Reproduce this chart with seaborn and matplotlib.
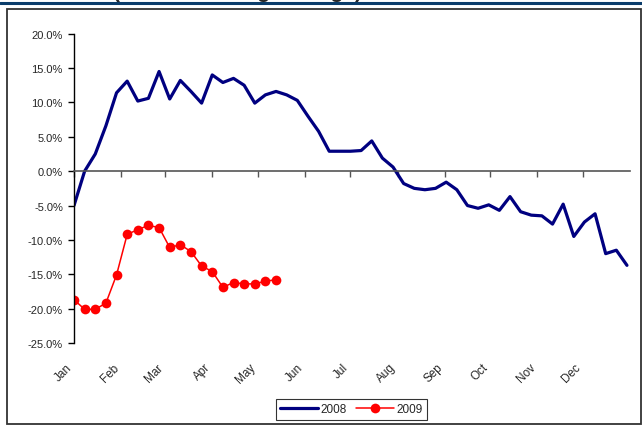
import numpy as np
import pandas as pd
import matplotlib
matplotlib.use("Agg")
import matplotlib.pyplot as plt
import seaborn as sns
from matplotlib.lines import Line2D
from matplotlib.patches import Rectangle
from matplotlib.ticker import FuncFormatter
from matplotlib.transforms import ScaledTranslation

# ---- data (weekly values, % change) ----
values_2008 = [-5.0, 0.0, 2.5, 6.6, 11.4, 13.1, 10.2, 10.6, 14.5, 10.5,
               13.2, 11.6, 9.9, 14.0, 12.9, 13.5, 12.5, 9.9, 11.1, 11.6,
               11.1, 10.3, 8.0, 5.8, 2.9, 2.9, 2.9, 3.0, 4.4, 1.9,
               0.6, -1.8, -2.5, -2.7, -2.5, -1.6, -2.7, -5.0, -5.4, -4.9,
               -5.7, -3.7, -5.9, -6.4, -6.5, -7.7, -4.8, -9.5, -7.4, -6.2,
               -12.0, -11.5, -13.7]
values_2009 = [-18.7, -20.1, -20.1, -19.2, -15.1, -9.2, -8.5, -7.9, -8.2, -11.1,
               -10.7, -11.7, -13.8, -14.6, -16.9, -16.2, -16.4, -16.4, -16.0, -15.8]
month_labels = ["Jan", "Feb", "Mar", "Apr", "May", "Jun",
                "Jul", "Aug", "Sep", "Oct", "Nov", "Dec"]
month_days = [0, 31, 60, 91, 121, 152, 182, 213, 244, 274, 305, 335]
y_ticks = [20, 15, 10, 5, 0, -5, -10, -15, -20, -25]

df08 = pd.DataFrame({"day": np.arange(len(values_2008)) * 7, "value": values_2008, "year": "2008"})
df09 = pd.DataFrame({"day": np.arange(len(values_2009)) * 7, "value": values_2009, "year": "2009"})

sns.set_style("white")
plt.rcParams["font.family"] = ["Liberation Sans", "DejaVu Sans"]

fig = plt.figure(figsize=(6.42, 4.27), dpi=100)
W, H = 642, 427
ax = fig.add_axes([74 / W, 1 - 344 / H, 556 / W, (344 - 34.7) / H])

sns.lineplot(data=df08, x="day", y="value", ax=ax, color="#000080", linewidth=2.3,
             legend=False)
sns.lineplot(data=df09, x="day", y="value", ax=ax, color="#FF0000", linewidth=1.1,
             marker="o", markersize=7, markeredgewidth=0, legend=False)

ax.set_xlim(0, 366)
ax.set_ylim(-25, 20)
ax.set_xlabel("")
ax.set_ylabel("")

# spines
for s in ["top", "right"]:
    ax.spines[s].set_visible(False)
ax.spines["left"].set_color("black")
ax.spines["left"].set_linewidth(1.0)
ax.spines["bottom"].set_position(("data", 0))
ax.spines["bottom"].set_color("#555555")
ax.spines["bottom"].set_linewidth(1.2)

ax.set_yticks(y_ticks)
ax.yaxis.set_major_formatter(FuncFormatter(lambda v, p: f"{v:.1f}%"))
ax.tick_params(axis="y", direction="out", length=4, width=1, color="black",
               labelsize=8, pad=4, left=True)

ax.set_xticks(month_days)
ax.tick_params(axis="x", direction="out", length=4, width=1, color="#555555",
               labelbottom=False, bottom=True)

sec = ax.secondary_xaxis("bottom")
sec.set_xticks(month_days)
sec.set_xticklabels(month_labels)
sec.tick_params(length=0, labelsize=8.5, pad=16)
sec.spines["bottom"].set_visible(False)
shift = ScaledTranslation(-4 / 100, 0, fig.dpi_scale_trans)
for lab in sec.get_xticklabels():
    lab.set_rotation(45)
    lab.set_ha("right")
    lab.set_va("center")
    lab.set_rotation_mode("anchor")
    lab.set_transform(lab.get_transform() + shift)

ax.grid(False)

# legend
handles = [Line2D([], [], color="#000080", linewidth=2.3),
           Line2D([], [], color="#FF0000", linewidth=1.1, marker="o", markersize=7,
                  markeredgewidth=0)]
leg = fig.legend(handles, ["2008", "2009"], loc="center",
                 bbox_to_anchor=(351.5 / W, 1 - 410.5 / H), ncol=2, fontsize=8.5,
                 frameon=True, fancybox=False, edgecolor="black", handlelength=3.2,
                 handletextpad=0.2, columnspacing=0.8, borderpad=0.35)
leg.get_frame().set_linewidth(0.8)

# outer border and header rule
fig.patches.append(Rectangle((7 / W, 1 - 425 / H), (641 - 7) / W, (425 - 10) / H,
                             transform=fig.transFigure, fill=False,
                             edgecolor="#333333", linewidth=1.3))
fig.lines.append(Line2D([0, 1], [1 - 4 / H, 1 - 4 / H], transform=fig.transFigure,
                        color="#0B3D6B", linewidth=2.2))
fig.text(113 / W, 1 + 2 / H, "(4-week moving average)", fontsize=15,
         fontweight="bold", ha="left", va="baseline")

fig.savefig("out.png", dpi=100)
